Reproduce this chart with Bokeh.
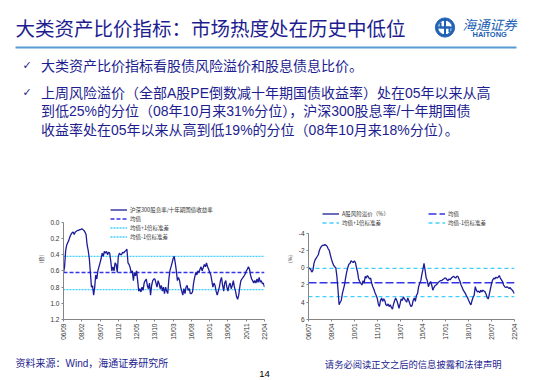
import math
import pandas as pd
from bokeh.plotting import figure
from bokeh.layouts import column, row
from bokeh.models import (Range1d, FixedTicker, Legend, LegendItem,
                          DatetimeTickFormatter, NumeralTickFormatter)
from bokeh.core.properties import value
from bokeh.embed import file_html
from bokeh.resources import INLINE

# ---------------- texts ----------------
TITLE = "大类资产比价指标：市场热度处在历史中低位"
BULLET1 = "大类资产比价指标看股债风险溢价和股息债息比价。"
BULLET2 = [
    "上周风险溢价（全部A股PE倒数减十年期国债收益率）处在05年以来从高",
    "到低25%的分位（08年10月来31%分位），沪深300股息率/十年期国债",
    "收益率处在05年以来从高到低19%的分位（08年10月来18%分位）。",
]
SOURCE = "资料来源：Wind，海通证券研究所"
DISCLAIMER = "请务必阅读正文之后的信息披露和法律声明"
PAGE_NO = "14"

# ---------------- left chart data (monthly, from 2006-09) ----------------
LEFT_START = "2006-09-01"
LEFT_VALUES = [
    0.62, 0.55, 0.35, 0.28,
    0.25, 0.22, 0.18, 0.15, 0.13, 0.12, 0.15, 0.12, 0.11, 0.10, 0.10, 0.09,
    0.09, 0.08, 0.09, 0.10, 0.12, 0.15, 0.28, 0.35, 0.45, 0.62, 0.80, 0.78,
    0.90, 0.80, 0.65, 0.70, 0.60, 0.55, 0.50, 0.45, 0.38, 0.42, 0.36, 0.38,
    0.36, 0.40, 0.37, 0.38, 0.48, 0.60, 0.55, 0.60, 0.50, 0.52, 0.62, 0.42,
    0.38, 0.40, 0.40, 0.37, 0.38, 0.36, 0.35, 0.33, 0.50, 0.52, 0.56, 0.62,
    0.60, 0.72, 0.62, 0.66, 0.60, 0.72, 0.85, 0.82, 0.86, 0.80, 0.84, 0.75,
    0.72, 0.70, 0.78, 0.82, 0.75, 0.90, 0.78, 0.72, 0.70, 0.70, 0.75, 0.80,
    0.72, 0.76, 0.82, 0.78, 0.85, 0.80, 0.88, 0.80, 0.85, 0.88, 0.70, 0.60,
    0.55, 0.50, 0.45, 0.42, 0.50, 0.60, 0.72, 0.68, 0.72, 0.80, 0.85, 0.90,
    0.82, 0.88, 0.80, 0.78, 0.84, 0.82, 0.88, 0.88, 0.86, 0.75, 0.68, 0.62,
    0.65, 0.60, 0.62, 0.58, 0.55, 0.60, 0.56, 0.52, 0.55, 0.50, 0.55, 0.58,
    0.62, 0.65, 0.72, 0.80, 0.75, 0.78, 0.85, 0.90, 0.85, 0.80, 0.72, 0.68,
    0.78, 0.85, 0.75, 0.72, 0.80, 0.85, 0.78, 0.75, 0.82, 0.78, 0.72, 0.80,
    0.85, 0.92, 0.95, 0.90, 0.80, 0.72, 0.70, 0.68, 0.66, 0.64, 0.60, 0.58,
    0.55, 0.58, 0.65, 0.70, 0.72, 0.75, 0.72, 0.75, 0.70, 0.74, 0.68, 0.74,
    0.72, 0.76, 0.75, 0.80,
]
LEFT_TICKS = ["06/09", "08/02", "09/07", "10/12", "12/05", "13/10",
              "15/03", "16/08", "18/01", "19/06", "20/11", "22/04"]
LEFT_YTICKS = [0.0, 0.2, 0.4, 0.6, 0.8, 1.0, 1.2]
LEFT_MEAN, LEFT_UP, LEFT_DOWN = 0.62, 0.42, 0.83
LEFT_NAMES = ["沪深300股息率/十年期国债收益率", "均值", "均值+1倍标准差", "均值-1倍标准差"]

# ---------------- right chart data (monthly, from 2006-07) ----------------
RIGHT_START = "2006-07-01"
RIGHT_VALUES = [
    0.0, 0.1, 0.2, 0.5, 0.3, -0.5,
    -0.9, -1.1, -1.3, -1.5, -2.0, -2.3, -2.5, -2.6, -2.6, -2.7, -2.6, -2.5,
    -2.2, -2.0, -1.5, -1.0, -0.6, -0.3, -0.1, 0.0, 1.0, 2.5, 4.3, 4.0,
    3.8, 3.0, 2.5, 2.0, 1.2, 0.5, 0.0, -0.4, -0.5, -0.8, -0.7, -0.6,
    -0.8, -0.6, 0.0, 0.5, 1.3, 1.6, 1.8, 2.0, 1.5, 1.8, 1.0, 1.2,
    0.9, 1.1, 1.3, 1.2, 1.8, 2.2, 2.5, 2.9, 3.2, 3.5, 4.2, 4.5,
    3.8, 3.5, 3.9, 3.6, 3.8, 4.3, 4.4, 4.2, 4.5, 4.3, 4.6, 4.8,
    4.2, 3.8, 3.5, 3.8, 4.2, 4.7, 4.2, 3.6, 3.8, 3.4, 3.6, 3.8,
    4.0, 3.5, 3.8, 4.2, 4.5, 4.4, 3.8, 3.5, 3.9, 3.2, 3.0, 2.2,
    1.8, 1.5, 0.8, 0.2, -0.5, 0.3, 1.2, 1.5, 2.2, 1.8, 1.6, 2.0,
    2.6, 2.3, 2.1, 2.0, 1.9, 1.7, 1.6, 1.5, 1.5, 1.4, 1.3, 1.2,
    1.2, 1.4, 1.5, 1.3, 1.4, 1.2, 1.1, 1.0, 1.1, 1.2, 1.0, 1.0,
    1.3, 1.6, 2.0, 2.3, 2.6, 2.8, 3.0, 3.3, 3.5, 3.8, 4.1, 4.3,
    3.8, 3.4, 3.2, 2.2, 2.6, 2.8, 2.7, 2.9, 2.6, 2.8, 2.6, 2.7,
    2.8, 3.1, 3.5, 3.6, 3.0, 2.4, 1.8, 1.4, 1.2, 1.3, 1.1, 1.2,
    1.1, 0.9, 1.2, 1.4, 1.6, 2.0, 2.2, 2.3, 2.2, 2.3, 2.4, 2.3,
    2.5, 2.6, 2.8, 3.0,
]
RIGHT_TICKS = ["06/07", "08/04", "10/01", "11/10", "13/07",
               "15/04", "17/01", "18/10", "20/07", "22/04"]
RIGHT_YTICKS = [-4, -2, 0, 2, 4, 6]
RIGHT_MEAN, RIGHT_UP, RIGHT_DOWN = 1.74, 0.08, 3.35
RIGHT_NAMES = ["A股风险溢价（%）", "均值", "均值+1倍标准差", "均值-1倍标准差"]

NAVY = "#1d1d8f"
SERIES = "#1c1c9a"
CJK = "Noto Sans CJK SC"
MIXED = "Liberation Sans, Noto Sans CJK SC"


def tick_ms(labels):
    out = []
    for lab in labels:
        yy, mm = lab.split("/")
        out.append(pd.Timestamp(f"20{yy}-{mm}-01").value // 10**6)
    return out


def style_axes(p, ylabel):
    for ax in (p.xaxis[0], p.yaxis[0]):
        ax.axis_line_color = "#858585"
        ax.major_tick_line_color = "#858585"
        ax.minor_tick_line_color = None
        ax.major_tick_in = 0
        ax.major_tick_out = 2
        ax.major_label_standoff = 2
        ax.major_label_text_font_size = "6.5px"
        ax.major_label_text_color = "#333333"
        ax.major_label_text_font = "Liberation Sans"
    p.xaxis.major_label_orientation = math.pi / 2
    p.yaxis.axis_label = ylabel
    p.yaxis.axis_label_text_font_size = "5px"
    p.yaxis.axis_label_text_font_style = "normal"
    p.yaxis.axis_label_text_font = CJK
    p.yaxis.axis_label_text_color = "#333333"
    p.yaxis.axis_label_standoff = 3
    p.grid.visible = False
    p.outline_line_color = None


def make_chart(start, vals, ticks, yticks, view_lo, view_hi, mean, up, down, names,
               borders, ylabel, yfmt, mean_dash, std_dash, legend_loc, horizontal):
    dates = pd.date_range(start, periods=len(vals), freq="MS")
    p = figure(width=275, height=144, x_axis_type="datetime",
               x_range=Range1d(dates[0], dates[-1]), y_range=Range1d(view_hi, view_lo),
               output_backend="svg", toolbar_location=None,
               min_border_left=borders[0], min_border_right=borders[1],
               min_border_top=0, min_border_bottom=22)
    style_axes(p, ylabel)
    p.yaxis.bounds = (yticks[0], yticks[-1])
    p.xaxis.ticker = FixedTicker(ticks=tick_ms(ticks))
    p.xaxis.formatter = DatetimeTickFormatter(
        days="%y/%m", months="%y/%m", years="%y/%m")
    p.yaxis.ticker = FixedTicker(ticks=yticks)
    p.yaxis.formatter = NumeralTickFormatter(format=yfmt)

    ends = [dates[0], dates[-1]]
    r_up = p.line(ends, [up, up], line_color="#3fd0ff", line_width=1.3, line_dash=std_dash)
    r_dn = p.line(ends, [down, down], line_color="#3fd0ff", line_width=1.3, line_dash=std_dash)
    r_mean = p.line(ends, [mean, mean], line_color="#3535e8", line_width=1.4, line_dash=mean_dash)
    r_s = p.line(dates, vals, line_color=SERIES, line_width=1.3)

    items = [LegendItem(label=names[0], renderers=[r_s]),
             LegendItem(label=names[1], renderers=[r_mean]),
             LegendItem(label=names[2], renderers=[r_up]),
             LegendItem(label=names[3], renderers=[r_dn])]
    lg = Legend(items=items, location=legend_loc,
                orientation="horizontal" if horizontal else "vertical",
                label_text_font_size="5.5px", label_text_font=CJK,
                label_text_color="#333333",
                glyph_width=17, glyph_height=9, label_height=9,
                spacing=0, padding=0, margin=0, label_standoff=3,
                border_line_color=None, background_fill_alpha=0)
    if horizontal:
        lg.ncols = 2
        lg.label_width = 86
    p.add_layout(lg, "center")
    return p


# view ranges extend above the axis so the legend (which overlaps) is not clipped
left = make_chart(LEFT_START, LEFT_VALUES, LEFT_TICKS, LEFT_YTICKS, -0.294, 1.2,
                  LEFT_MEAN, LEFT_UP, LEFT_DOWN, LEFT_NAMES,
                  (63, 11), "（倍）", "0.0", "4 2", "2 1", (47, 78), False)
right = make_chart(RIGHT_START, RIGHT_VALUES, RIGHT_TICKS, RIGHT_YTICKS, -8.02, 6,
                   RIGHT_MEAN, RIGHT_UP, RIGHT_DOWN, RIGHT_NAMES,
                   (33, 36), "（%）", "0", "8 3", "4 3", (14, 92), True)

# ---------------- header ----------------
head = figure(width=550, height=198, x_range=Range1d(0, 550), y_range=Range1d(198, 0),
              x_axis_location=None, y_axis_location=None, min_border=0,
              output_backend="svg", toolbar_location=None)
head.grid.visible = False
head.outline_line_color = None
head.text(x=[15], y=[27], text=[TITLE], text_font=value(CJK), text_font_size="19.5px",
          text_color=NAVY, text_baseline="middle")
head.segment(x0=[15], y0=[47], x1=[516], y1=[47], line_color="#5b9bd5", line_width=2)
# logo
LOGO = "#2161b3"
head.annulus(x=[444.5], y=[27], inner_radius=7.3, outer_radius=9.6, color=LOGO)
head.multi_line(xs=[[437, 452], [444.5, 444.5], [440, 440, 444.5], [449, 449, 444.5]],
                ys=[[27, 27], [19.5, 34.5], [22, 27, 27], [32, 27, 27]],
                line_color=LOGO, line_width=2)
head.text(x=[462], y=[23], text=["海通证券"], text_font=value(CJK), text_font_size="13.5px",
          text_font_style="italic", text_color=LOGO, text_baseline="middle")
head.text(x=[472], y=[34], text=["HAITONG"], text_font=value("Liberation Sans"),
          text_font_size="7.5px", text_font_style="bold", text_color=LOGO,
          text_baseline="middle")
# bullets
head.text(x=[22, 22], y=[65, 92], text=["✓", "✓"], text_font=value("DejaVu Sans"),
          text_font_size="11px", text_font_style="bold", text_color=NAVY,
          text_baseline="middle")
head.text(x=[40.5], y=[65], text=[BULLET1], text_font=value(MIXED),
          text_font_size="14px", text_color=NAVY, text_baseline="middle")
head.text(x=[40.5] * 3, y=[92, 110.5, 129], text=BULLET2, text_font=value(MIXED),
          text_font_size="14px", text_color=NAVY, text_baseline="middle")

# ---------------- footer ----------------
foot = figure(width=550, height=37, x_range=Range1d(0, 550), y_range=Range1d(379, 342),
              x_axis_location=None, y_axis_location=None, min_border=0,
              output_backend="svg", toolbar_location=None)
foot.grid.visible = False
foot.outline_line_color = None
foot.text(x=[15], y=[363], text=[SOURCE], text_font=value(MIXED), text_font_size="10px",
          text_color=NAVY, text_baseline="middle")
foot.text(x=[501], y=[363], text=[DISCLAIMER], text_font=value(CJK), text_font_size="9.3px",
          text_color=NAVY, text_baseline="middle", text_align="right")
foot.text(x=[264], y=[373], text=[PAGE_NO], text_font=value("Liberation Sans"),
          text_font_size="9.5px", text_color="#000000", text_baseline="middle",
          text_align="center")

layout = column(head, row(left, right, spacing=0), foot, spacing=0)
open("out.html", "w").write(file_html(layout, INLINE))
